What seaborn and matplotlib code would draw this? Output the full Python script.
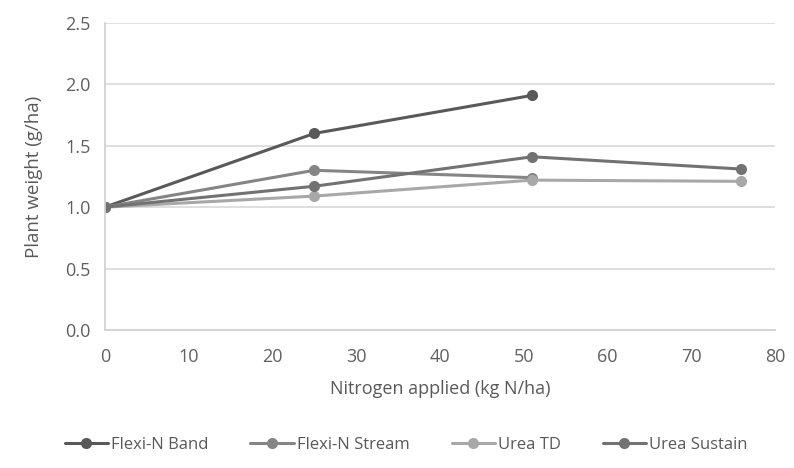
import matplotlib
matplotlib.use("Agg")
import matplotlib.pyplot as plt
from matplotlib.lines import Line2D
import seaborn as sns
import pandas as pd

series_names = ["Flexi-N Band", "Flexi-N Stream", "Urea TD", "Urea Sustain"]
band_x = [0, 25, 51]
band_y = [1.0, 1.6, 1.91]
stream_x = [0, 25, 51]
stream_y = [1.0, 1.3, 1.24]
td_x = [0, 25, 51, 76]
td_y = [1.0, 1.09, 1.22, 1.21]
sustain_x = [0, 25, 51, 76]
sustain_y = [1.0, 1.17, 1.41, 1.31]
colors = ["#595959", "#858585", "#a8a8a8", "#727272"]

rows = []
for name, xs, ys in zip(series_names, [band_x, stream_x, td_x, sustain_x],
                        [band_y, stream_y, td_y, sustain_y]):
    for x, y in zip(xs, ys):
        rows.append({"x": x, "y": y, "series": name})
df = pd.DataFrame(rows)

sns.set_style("white")
plt.rcParams["font.family"] = ["Open Sans", "DejaVu Sans"]

fig = plt.figure(figsize=(7.94, 4.68), dpi=100)
ax = fig.add_axes([0.132, 0.295, 0.844, 0.656])

sns.lineplot(data=df, x="x", y="y", hue="series", hue_order=series_names,
             palette=colors, marker="o", markersize=8, markeredgewidth=0,
             linewidth=2.2, ax=ax, legend=False)

ax.set_xlim(0, 80)
ax.set_ylim(0, 2.5)
ax.set_xticks(range(0, 81, 10))
ax.set_yticks([0, 0.5, 1.0, 1.5, 2.0, 2.5])
ax.set_yticklabels(["0.0", "0.5", "1.0", "1.5", "2.0", "2.5"])
ax.grid(axis="y", color="#d9d9d9", linewidth=1.2)
ax.grid(axis="x", visible=False)
for s in ["top", "right"]:
    ax.spines[s].set_visible(False)
for s in ["left", "bottom"]:
    ax.spines[s].set_color("#d0d0d0")
    ax.spines[s].set_linewidth(1.2)
ax.tick_params(axis="both", colors="#606060", labelsize=13, length=0)
ax.tick_params(axis="x", pad=13)
ax.tick_params(axis="y", pad=10)
ax.set_xlabel("Nitrogen applied (kg N/ha)", fontsize=13, color="#595959", labelpad=10)
ax.set_ylabel("Plant weight (g/ha)", fontsize=13.5, color="#595959", labelpad=16)

handles = [Line2D([0], [0], color=c, linewidth=2.2, marker="o", markersize=8,
                  markeredgewidth=0) for c in colors]
ax.legend(handles, series_names, loc="center", bbox_to_anchor=(0.45, -0.375), ncol=4,
          frameon=False, fontsize=12, labelcolor="#595959", handlelength=2.6,
          columnspacing=2.5, handletextpad=0.2)

fig.savefig("out.png", dpi=100)
